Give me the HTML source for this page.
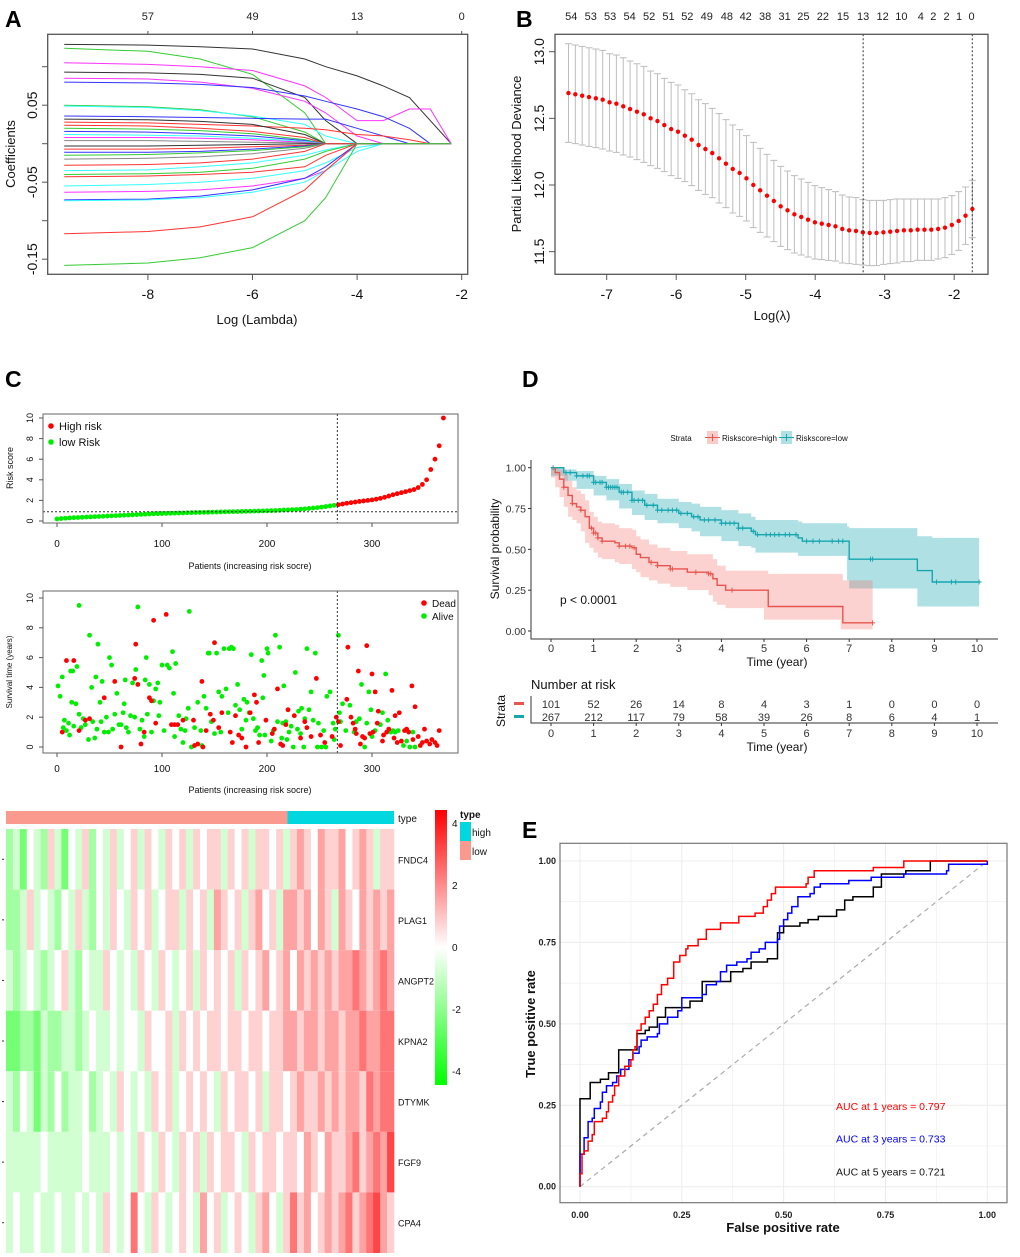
<!DOCTYPE html>
<html><head><meta charset="utf-8"><title>Risk model figure</title>
<style>
html,body{margin:0;padding:0;background:#fff;}
svg{display:block;font-family:"Liberation Sans",Arial,sans-serif;}
</style></head>
<body>
<svg id="fig" width="1020" height="1257" viewBox="0 0 1020 1257" xmlns="http://www.w3.org/2000/svg">
<rect x="0" y="0" width="1020" height="1257" fill="#fff"/>
<text x="5" y="27" font-size="23" font-weight="bold">A</text>
<text x="516" y="27" font-size="23" font-weight="bold">B</text>
<text x="5" y="387" font-size="23" font-weight="bold">C</text>
<text x="522" y="387" font-size="23" font-weight="bold">D</text>
<text x="522" y="838" font-size="23" font-weight="bold">E</text>
</svg>
<script>
// ================= DATA =================
// Panel A: LASSO coefficient paths
const aLogLambda=[-9.6,-8,-7,-6,-5,-4.6,-4,-3.5,-3,-2.6,-2.2];
const aPaths=[
[0.129,0.128,0.126,0.123,0.11,0.1,0.088,0.075,0.06,0.03,0],
[0.124,0.12,0.11,0.09,0.04,0,0,0,0,0,0],
[0.105,0.103,0.1,0.095,0.075,0.06,0.03,0.03,0.045,0.045,0],
[0.093,0.092,0.09,0.085,0.06,0.03,0,0,0,0,0],
[0.085,0.084,0.08,0.072,0.055,0.04,0.01,0,0,0,0],
[0.08,0.079,0.077,0.073,0.062,0.055,0.045,0.035,0.02,0,0],
[0.05,0.048,0.044,0.035,0.015,0,0,0,0,0,0],
[0.049,0.047,0.043,0.036,0.025,0.01,0,0,0,0,0],
[0.036,0.035,0.034,0.033,0.032,0.032,0.02,0.01,0,0,0],
[0.028,0.027,0.025,0.023,0.02,0.018,0.012,0.01,0.005,0,0],
[0.032,0.031,0.029,0.025,0.012,0,0,0,0,0,0],
[0.024,0.023,0.02,0.016,0.008,0,0,0,0,0,0],
[0.02,0.019,0.017,0.013,0.005,0,0,0,0,0,0],
[0.016,0.015,0.013,0.01,0.004,0,0,0,0,0,0],
[0.012,0.011,0.01,0.007,0.003,0,0,0,0,0,0],
[0.008,0.008,0.007,0.005,0.002,0,0,0,0,0,0],
[0.004,0.004,0.003,0.002,0.001,0,0,0,0,0,0],
[-0.003,-0.003,-0.002,-0.001,0,0,0,0,0,0,0],
[-0.007,-0.007,-0.006,-0.004,-0.002,0,0,0,0,0,0],
[-0.011,-0.011,-0.01,-0.007,-0.003,0,0,0,0,0,0],
[-0.015,-0.014,-0.012,-0.009,-0.004,0,0,0,0,0,0],
[-0.02,-0.019,-0.017,-0.013,-0.006,0,0,0,0,0,0],
[-0.028,-0.027,-0.025,-0.02,-0.01,0,0,0,0,0,0],
[-0.035,-0.034,-0.03,-0.025,-0.015,-0.008,0,0,0,0,0],
[-0.04,-0.039,-0.037,-0.032,-0.02,-0.01,0,0,0,0,0],
[-0.043,-0.042,-0.04,-0.037,-0.03,-0.015,0,0,0,0,0],
[-0.055,-0.053,-0.05,-0.045,-0.035,-0.025,-0.005,0,0,0,0],
[-0.063,-0.062,-0.06,-0.055,-0.045,-0.035,0,0,0,0,0],
[-0.073,-0.072,-0.068,-0.06,-0.045,-0.03,0,0,0,0,0],
[-0.074,-0.073,-0.07,-0.063,-0.05,-0.035,-0.01,0,0,0,0],
[-0.117,-0.114,-0.108,-0.095,-0.06,-0.035,0,0,0,0,0],
[-0.158,-0.155,-0.148,-0.135,-0.1,-0.07,0,0,0,0,0]];
const aColors=["#333","#3c3","#f3f","#333","#f3f","#33f","#3c3","#3ff","#33f","#f33","#333","#f33","#3c3","#33f","#3ff","#f3f","#888","#333","#f33","#33f","#3c3","#888","#f33","#3ff","#3c3","#f33","#3ff","#f3f","#33f","#3ff","#f33","#3c3"];
const aTopLabels=["57","49","13","0"];
const aTopAt=[-8,-6,-4,-2];
const aXTicks=[-8,-6,-4,-2];
const aYTicks=[-0.15,-0.1,-0.05,0,0.05,0.1];
const aYLabels=[-0.15,-0.05,0.05];

// Panel B: CV partial likelihood deviance
const bStart=-7.55, bStep=0.0985;
const bMean=[12.69,12.68,12.67,12.66,12.65,12.64,12.62,12.61,12.59,12.57,12.55,12.53,12.50,12.48,12.45,12.42,12.40,12.37,12.34,12.30,12.27,12.24,12.20,12.16,12.12,12.09,12.05,12.00,11.96,11.92,11.88,11.84,11.81,11.78,11.76,11.74,11.72,11.71,11.70,11.69,11.67,11.66,11.655,11.645,11.64,11.64,11.645,11.65,11.655,11.66,11.66,11.665,11.665,11.665,11.67,11.68,11.70,11.73,11.77,11.82];
const bSE=[0.37,0.37,0.37,0.37,0.37,0.37,0.365,0.365,0.365,0.36,0.36,0.36,0.355,0.355,0.35,0.35,0.35,0.345,0.345,0.34,0.34,0.335,0.335,0.33,0.33,0.325,0.32,0.32,0.315,0.31,0.305,0.3,0.295,0.29,0.285,0.28,0.275,0.27,0.265,0.26,0.255,0.25,0.25,0.245,0.245,0.245,0.24,0.24,0.24,0.235,0.235,0.23,0.23,0.23,0.225,0.225,0.22,0.22,0.215,0.215];
const bTopLabels=["54","53","53","54","52","51","52","49","48","42","38","31","25","22","15","13","12","10","4","2","2","1","0"];
const bTopAt=[-7.51,-7.23,-6.95,-6.67,-6.39,-6.11,-5.84,-5.56,-5.27,-5.0,-4.72,-4.44,-4.17,-3.89,-3.60,-3.31,-3.03,-2.76,-2.48,-2.30,-2.11,-1.93,-1.75];
const bXTicks=[-7,-6,-5,-4,-3,-2];
const bYTicks=[11.5,12.0,12.5,13.0];
const bLambdaMin=-3.31, bLambda1se=-1.74;

// Panel C
const riskScore=[0.20,0.24,0.27,0.30,0.32,0.34,0.36,0.38,0.40,0.42,0.44,0.46,0.48,0.50,0.52,0.54,0.56,0.58,0.60,0.62,0.64,0.66,0.68,0.70,0.71,
0.72,0.73,0.75,0.76,0.77,0.78,0.80,0.81,0.82,0.83,0.84,0.85,0.86,0.87,0.88,0.89,0.90,0.91,0.92,0.93,0.94,0.95,0.96,0.97,0.98,
0.99,1.00,1.02,1.04,1.06,1.08,1.10,1.12,1.15,1.18,1.22,1.26,1.30,1.35,1.40,1.46,1.52,
1.58,1.65,1.72,1.78,1.84,1.90,1.95,2.00,2.05,2.12,2.20,2.30,2.42,2.55,2.65,2.75,2.85,2.95,3.05,3.25,3.55,4.00,5.00,6.00,7.30,10.0];
const riskCutPatient=267, riskCutScore=0.9;
const cXTicks=[0,100,200,300];
const cYTicks=[0,2,4,6,8,10];
const aliveTimes=[[1,4.1],[3,3.4],[5,4.7],[6,1.3],[7,1.8],[9,1.1],[11,1.6],[12,0.8],[13,5.1],[14,3.0],[15,5.1],[16,1.4],[18,2.9],[19,5.4],[21,9.5],[21,2.2],[23,1.3],[25,1.9],[27,1.5],[30,0.5],[31,7.5],[33,4.0],[34,1.7],[36,0.6],[37,4.7],[38,1.2],[39,6.9],[41,3.0],[42,1.7],[43,4.4],[45,1.0],[47,2.0],[49,1.0],[50,6.0],[52,5.5],[53,1.2],[55,2.2],[57,3.6],[59,1.5],[61,1.5],[63,2.3],[64,2.9],[65,4.5],[66,1.3],[68,1.0],[70,2.1],[72,4.3],[74,2.0],[75,5.2],[77,9.4],[79,1.2],[81,1.8],[83,0.7],[84,4.5],[85,6.0],[86,2.2],[88,4.2],[90,1.0],[92,3.1],[94,3.9],[96,4.3],[97,2.1],[98,3.0],[100,5.5],[102,1.1],[105,5.5],[107,5.3],[110,6.4],[111,3.6],[112,0.7],[113,5.6],[116,2.1],[118,1.2],[120,0.3],[122,1.1],[123,1.9],[125,2.6],[126,9.1],[128,0.0],[131,1.3],[134,3.0],[137,1.1],[138,0.1],[140,3.4],[142,2.6],[144,6.3],[145,6.3],[147,1.7],[150,0.9],[152,6.3],[154,3.7],[156,1.0],[157,3.4],[159,6.6],[161,3.9],[163,2.3],[164,6.6],[166,6.7],[168,6.6],[170,2.8],[172,4.2],[174,2.5],[176,1.2],[178,3.2],[180,1.8],[181,3.0],[183,2.3],[185,6.2],[187,1.9],[189,1.1],[191,1.3],[193,0.8],[195,5.8],[196,3.3],[197,4.8],[198,0.8],[200,6.6],[201,6.3],[204,0.4],[206,1.1],[208,7.5],[210,1.7],[212,6.7],[214,0.6],[215,1.6],[216,4.1],[218,1.7],[219,0.5],[221,1.0],[223,1.4],[225,0.0],[227,5.0],[229,1.2],[230,2.4],[232,0.9],[233,2.6],[235,0.0],[236,1.9],[238,6.6],[240,2.5],[242,3.7],[244,1.8],[246,6.3],[248,0.0],[249,1.6],[252,0.0],[254,1.1],[256,0.0],[257,3.4],[260,3.7],[263,1.6],[264,0.5],[265,1.2],[268,7.5],[269,2.3],[270,1.7],[272,2.9],[275,1.1],[279,2.8],[283,1.0],[285,1.7],[288,1.9],[290,4.2],[293,0.0],[295,1.6],[297,3.7],[299,2.5],[300,0.7],[303,1.1],[308,1.5],[310,2.3],[313,4.9],[315,1.8],[318,1.0],[320,1.1],[322,1.0],[325,1.1],[330,0.1],[333,0.4],[336,0.0],[339,1.0],[341,0.0]];
const deadTimes=[[5,1.0],[9,5.8],[16,5.8],[21,1.1],[27,1.8],[31,1.9],[45,3.3],[55,4.4],[61,0.0],[74,4.6],[75,6.9],[77,4.2],[80,0.2],[83,1.0],[88,3.3],[90,3.1],[92,8.5],[94,1.6],[104,8.9],[109,1.5],[112,1.5],[115,1.5],[120,1.8],[130,1.8],[131,0.1],[134,0.2],[138,4.4],[139,0.0],[142,1.1],[146,2.2],[149,1.8],[150,7.0],[154,1.3],[157,2.3],[165,1.0],[167,0.3],[170,2.1],[173,0.8],[176,0.6],[180,0.0],[184,2.3],[188,3.5],[190,3.0],[192,0.3],[199,1.8],[205,0.9],[207,1.2],[210,3.9],[213,0.2],[215,0.1],[218,1.5],[220,2.5],[226,2.1],[232,0.6],[236,1.7],[238,1.3],[242,0.7],[247,4.6],[251,0.8],[255,0.3],[262,0.7],[266,2.0],[268,1.7],[270,0.1],[276,3.2],[277,6.7],[280,2.0],[282,1.6],[284,1.2],[285,0.9],[287,5.1],[289,0.2],[291,0.7],[293,0.6],[295,6.8],[298,0.9],[300,4.9],[301,1.0],[303,3.7],[305,1.6],[306,2.4],[310,0.4],[311,0.8],[314,1.0],[316,1.2],[319,3.8],[321,0.6],[322,2.1],[324,0.3],[326,2.3],[328,0.4],[331,1.1],[333,1.2],[335,1.0],[338,4.1],[339,0.5],[341,2.7],[344,0.7],[346,0.1],[348,0.3],[350,1.2],[352,0.4],[355,0.2],[357,0.5],[360,0.3],[362,0.1],[364,1.1]];

// Heatmap
const heatGenes=["FNDC4","PLAG1","ANGPT2","KPNA2","DTYMK","FGF9","CPA4"];
const heatRows=[
[-2,-1,-3,0,-1,-2,1,-1,-3,0,-1,1,-2,0,-1,1,-1,0,1,-1,1,0,-1,1,0,1,-1,1,0,1,1,-1,1,0,1,-1,1,1,0,1,-1,1,2,1,0,2,1,1,2,0,1,2,1,-1,1,1],
[-2,-2,-1,1,-1,0,-1,-2,0,-1,1,-1,-2,0,-1,1,0,-1,1,0,1,-1,0,1,1,-1,1,0,1,-1,2,1,0,1,-1,1,2,0,1,-1,2,2,1,2,0,2,1,-1,2,1,0,2,1,2,1,2],
[-1,-2,-1,0,-1,-2,-1,0,1,-1,-2,0,-1,-1,1,0,-1,0,-1,1,0,-1,1,0,-1,0,1,-1,1,0,1,0,1,-1,1,0,1,2,0,1,2,0,2,1,2,1,2,1,2,2,3,2,1,2,3,2],
[-3,-3,-2,-2,-3,-1,-2,-2,-1,-1,-2,-1,0,-1,-1,0,-1,0,0,-1,1,0,0,1,-1,1,0,1,0,1,1,0,1,1,0,1,1,0,1,1,2,2,1,2,2,1,2,2,1,2,2,3,2,2,3,3],
[-1,-2,0,-1,-3,-1,-2,0,-2,-1,-1,0,-2,-1,0,-1,1,0,-1,0,-1,1,0,1,-1,0,1,0,1,0,-1,1,0,1,1,0,1,-1,1,1,0,1,2,1,1,2,1,2,1,2,2,1,3,2,3,3],
[-1,-1,-1,-1,-1,0,-1,-1,-1,-1,-1,0,-1,-1,-1,0,-1,0,-1,1,0,-1,1,0,-1,1,0,1,-1,1,0,1,1,0,-1,1,0,1,1,0,1,1,0,2,1,0,2,1,1,2,3,1,2,3,2,4],
[-1,0,-1,-1,0,-1,-1,0,-1,-1,0,-1,0,-1,1,0,-1,0,3,0,-1,1,0,-1,0,1,0,-1,2,0,1,-1,0,1,0,-1,1,2,0,-1,1,3,1,2,0,1,2,1,2,3,1,2,3,4,2,1]];
const heatTypeCounts=[267,101];
const heatKeyTicks=[4,2,0,-2,-4];

// Panel D
const kmHighT=[0,0.1,0.2,0.3,0.4,0.5,0.6,0.7,0.8,0.9,1.0,1.1,1.2,1.5,1.6,1.9,2.0,2.1,2.3,2.5,2.8,3.2,3.7,3.8,3.9,4.1,5.0,5.1,6.8,6.85,7.55];
const kmHighS=[1,0.97,0.93,0.88,0.83,0.78,0.76,0.74,0.70,0.63,0.60,0.57,0.55,0.54,0.52,0.51,0.47,0.45,0.42,0.40,0.38,0.36,0.35,0.32,0.28,0.25,0.25,0.15,0.15,0.05,0.05];
const kmHighHi=[1,1,0.99,0.96,0.92,0.88,0.86,0.84,0.80,0.73,0.70,0.67,0.66,0.65,0.63,0.62,0.58,0.56,0.53,0.51,0.49,0.47,0.47,0.44,0.40,0.37,0.37,0.35,0.35,0.31,0.31];
const kmHighLo=[1,0.94,0.88,0.82,0.76,0.70,0.68,0.66,0.61,0.54,0.51,0.48,0.45,0.44,0.42,0.41,0.38,0.36,0.33,0.31,0.29,0.27,0.25,0.22,0.18,0.16,0.14,0.07,0.07,0.01,0.01];
const kmHighCens=[0.3,0.5,0.7,0.95,1.0,1.05,1.1,1.2,1.6,1.75,1.85,1.95,2.35,2.5,2.8,2.85,3.4,3.7,3.75,4.25,7.55];
const kmLowT=[0,0.3,0.6,1.0,1.3,1.6,1.9,2.2,2.5,3.0,3.3,3.5,4.0,4.4,4.7,4.8,5.8,5.9,6.95,7.0,8.6,8.95,10.05];
const kmLowS=[1,0.97,0.95,0.91,0.88,0.85,0.80,0.77,0.74,0.72,0.70,0.68,0.66,0.63,0.61,0.59,0.57,0.55,0.55,0.44,0.37,0.30,0.30];
const kmLowHi=[1,0.99,0.98,0.95,0.93,0.90,0.86,0.84,0.81,0.79,0.78,0.76,0.74,0.72,0.70,0.68,0.67,0.66,0.64,0.63,0.58,0.57,0.57];
const kmLowLo=[1,0.95,0.92,0.87,0.83,0.80,0.75,0.71,0.68,0.66,0.63,0.61,0.58,0.55,0.52,0.51,0.48,0.46,0.46,0.31,0.26,0.15,0.15];
const kmLowCens=[0.05,0.35,0.45,0.6,0.75,0.85,0.9,1.0,1.05,1.15,1.2,1.3,1.35,1.4,1.45,1.5,1.55,1.65,1.7,1.8,1.9,1.95,2.05,2.15,2.25,2.4,2.5,2.6,2.75,2.85,2.95,3.05,3.2,3.35,3.45,3.6,3.7,3.85,4.0,4.1,4.2,4.3,4.4,4.5,4.75,4.85,5.05,5.15,5.25,5.35,5.5,5.6,5.75,6.0,6.15,6.3,6.6,6.75,6.85,7.5,7.55,9.05,9.4,9.5,10.05];
const dXTicks=[0,1,2,3,4,5,6,7,8,9,10];
const dYTicks=[0,0.25,0.5,0.75,1];
const riskHigh=[101,52,26,14,8,4,3,1,0,0,0];
const riskLow=[267,212,117,79,58,39,26,8,6,4,1];

// Panel E
const roc1=[[0,0],[0,0.04],[0.005,0.1],[0.01,0.11],[0.02,0.14],[0.03,0.16],[0.035,0.2],[0.055,0.21],[0.065,0.23],[0.07,0.26],[0.08,0.28],[0.085,0.31],[0.095,0.34],[0.11,0.37],[0.125,0.39],[0.13,0.42],[0.135,0.43],[0.14,0.48],[0.15,0.5],[0.16,0.52],[0.17,0.54],[0.18,0.56],[0.19,0.59],[0.2,0.62],[0.215,0.64],[0.23,0.69],[0.245,0.71],[0.26,0.73],[0.265,0.74],[0.29,0.76],[0.31,0.79],[0.345,0.81],[0.39,0.83],[0.43,0.84],[0.45,0.86],[0.46,0.88],[0.47,0.9],[0.48,0.92],[0.555,0.93],[0.56,0.95],[0.575,0.97],[0.72,0.98],[0.795,1.0],[1,1]];
const roc3=[[0,0],[0,0.1],[0.01,0.1],[0.01,0.15],[0.02,0.15],[0.02,0.2],[0.03,0.21],[0.035,0.24],[0.05,0.26],[0.055,0.29],[0.065,0.31],[0.08,0.32],[0.09,0.34],[0.1,0.36],[0.12,0.39],[0.13,0.41],[0.145,0.43],[0.15,0.45],[0.165,0.46],[0.19,0.47],[0.195,0.5],[0.215,0.52],[0.24,0.54],[0.25,0.58],[0.3,0.59],[0.31,0.62],[0.335,0.63],[0.345,0.66],[0.36,0.68],[0.385,0.69],[0.41,0.7],[0.42,0.72],[0.44,0.73],[0.455,0.75],[0.485,0.76],[0.49,0.8],[0.5,0.82],[0.51,0.84],[0.52,0.86],[0.535,0.89],[0.565,0.9],[0.575,0.92],[0.59,0.93],[0.66,0.94],[0.715,0.95],[0.795,0.96],[0.9,0.97],[0.905,0.99],[1,1]];
const roc5=[[0,0],[0,0.27],[0.02,0.27],[0.025,0.32],[0.045,0.32],[0.05,0.33],[0.07,0.33],[0.07,0.35],[0.095,0.35],[0.095,0.42],[0.14,0.42],[0.14,0.47],[0.16,0.48],[0.17,0.49],[0.19,0.52],[0.21,0.53],[0.21,0.55],[0.27,0.55],[0.27,0.57],[0.3,0.57],[0.3,0.63],[0.37,0.63],[0.37,0.66],[0.4,0.66],[0.4,0.67],[0.42,0.67],[0.42,0.69],[0.46,0.69],[0.46,0.7],[0.485,0.7],[0.485,0.78],[0.5,0.78],[0.5,0.8],[0.54,0.8],[0.54,0.81],[0.56,0.81],[0.56,0.82],[0.585,0.83],[0.63,0.83],[0.63,0.85],[0.65,0.85],[0.65,0.88],[0.67,0.89],[0.72,0.9],[0.72,0.92],[0.74,0.92],[0.74,0.96],[0.8,0.96],[0.8,0.97],[0.84,0.97],[0.86,1.0],[1,1]];
const rocAUC=["0.797","0.733","0.721"];
const rocYears=["1","3","5"];
const eTicks=[0,0.25,0.5,0.75,1];
const eTickLabels=["0.00","0.25","0.50","0.75","1.00"];

// ================= DRAWING =================
const NS="http://www.w3.org/2000/svg";
const svg=document.getElementById('fig');
function el(tag,a,p){const e=document.createElementNS(NS,tag);for(const k in a)e.setAttribute(k,a[k]);(p||svg).appendChild(e);return e;}
function txt(s,a,p){const e=el('text',a,p);e.textContent=s;return e;}
function grp(name){const g=el('g',{});return g;}

// ---------- Panel A ----------
(function(){
const g=grp('panel-a-lasso-paths');
const xA=v=>147.9+(v+8)*52.3, yA=c=>143.7-c*770;
aPaths.forEach((p,i)=>{
 let d='';p.forEach((c,j)=>{d+=(j?'L':'M')+xA(aLogLambda[j]).toFixed(1)+' '+yA(c).toFixed(1);});
 const l=el('path',{d:d,fill:'none',stroke:aColors[i%aColors.length],'stroke-width':1},g);
 
 
});
const box=el('rect',{x:47.7,y:34.3,width:420,height:240,fill:'none',stroke:'#555','stroke-width':1.3},g);


aXTicks.forEach(v=>{
 el('line',{x1:xA(v),x2:xA(v),y1:274.3,y2:280,stroke:'#555'},g);
 const t=txt(String(v),{x:xA(v),y:299,'font-size':14,'text-anchor':'middle',fill:'#111'},g);
 
 
});
aTopAt.forEach((v,i)=>{
 el('line',{x1:xA(v),x2:xA(v),y1:34.3,y2:31,stroke:'#555'},g);
 const t=txt(aTopLabels[i],{x:xA(v),y:20,'font-size':11,'text-anchor':'middle',fill:'#222'},g);
 
 
});
aYTicks.forEach(v=>{el('line',{x1:42,x2:47.7,y1:yA(v),y2:yA(v),stroke:'#555'},g);});
aYLabels.forEach(v=>{
 const t=txt(String(v),{x:0,y:0,'font-size':14,'text-anchor':'middle',fill:'#111',transform:`translate(37,${yA(v)}) rotate(-90)`},g);
 
 
});
const yt=txt('Coefficients',{x:0,y:0,'font-size':13,'text-anchor':'middle',fill:'#111',transform:'translate(15,154) rotate(-90)'},g);


const xt=txt('Log (Lambda)',{x:257,y:324,'font-size':13,'text-anchor':'middle',fill:'#111'},g);


})();

// ---------- Panel B ----------
(function(){
const g=grp('panel-b-cv-deviance');
const xB=v=>606.7+(v+7)*69.5, yB=d=>51.7+(13-d)*133.3;
bMean.forEach((m,i)=>{
 const x=xB(bStart+i*bStep);
 const hi=yB(m+bSE[i]), lo=yB(m-bSE[i]);
 const eb=el('path',{d:`M${x} ${hi}V${lo}M${x-3.5} ${hi}H${x+3.5}M${x-3.5} ${lo}H${x+3.5}`,stroke:'#bdbdbd','stroke-width':1,fill:'none'},g);
 
 
});
bMean.forEach((m,i)=>{
 const c=el('circle',{cx:xB(bStart+i*bStep),cy:yB(m),r:2.2,fill:'#f00'},g);
 
 
});
[bLambdaMin,bLambda1se].forEach(v=>{
 const l=el('line',{x1:xB(v),x2:xB(v),y1:34.3,y2:274,stroke:'#333','stroke-dasharray':'2,2'},g);
 
 
});
const box=el('rect',{x:555,y:34.3,width:433,height:240,fill:'none',stroke:'#555','stroke-width':1.3},g);


bXTicks.forEach(v=>{
 el('line',{x1:xB(v),x2:xB(v),y1:274.3,y2:280,stroke:'#555'},g);
 const t=txt(String(v),{x:xB(v),y:299,'font-size':14,'text-anchor':'middle',fill:'#111'},g);
 
 
});
bTopAt.forEach((v,i)=>{
 const t=txt(bTopLabels[i],{x:xB(v),y:20,'font-size':11,'text-anchor':'middle',fill:'#222'},g);
 
 
});
bYTicks.forEach(v=>{
 el('line',{x1:549,x2:555,y1:yB(v),y2:yB(v),stroke:'#555'},g);
 const t=txt(v.toFixed(1),{x:0,y:0,'font-size':14,'text-anchor':'middle',fill:'#111',transform:`translate(544,${yB(v)}) rotate(-90)`},g);
 
 
});
const yt=txt('Partial Likelihood Deviance',{x:0,y:0,'font-size':13,'text-anchor':'middle',fill:'#111',transform:'translate(521,154) rotate(-90)'},g);


const xt=txt('Log(λ)',{x:772,y:320,'font-size':13,'text-anchor':'middle',fill:'#111'},g);


})();

// ---------- Panel C ----------
(function(){
const g=grp('panel-c-risk-plots');
const xC=p=>57+p*1.05, y1=v=>521-v*10.3, y2=t=>747-t*14.9;
riskScore.forEach((v,i)=>{
 const p=Math.min(i*4,368);
 const c=el('circle',{cx:xC(p),cy:y1(v),r:2.4,fill:p<riskCutPatient?'#0e0':'#f00'},g);
 
 
});
el('line',{x1:43,x2:458,y1:y1(riskCutScore),y2:y1(riskCutScore),stroke:'#333','stroke-dasharray':'2,2'},g);
el('line',{x1:xC(riskCutPatient),x2:xC(riskCutPatient),y1:414,y2:523,stroke:'#333','stroke-dasharray':'2,2'},g);
const b1=el('rect',{x:43,y:414,width:415,height:109,fill:'none',stroke:'#666','stroke-width':1},g);


aliveTimes.forEach(a=>{
 const c=el('circle',{cx:xC(a[0]),cy:y2(a[1]),r:2.4,fill:'#0e0'},g);
 
 
});
deadTimes.forEach(a=>{
 const c=el('circle',{cx:xC(a[0]),cy:y2(a[1]),r:2.4,fill:'#f00'},g);
 
 
});
el('line',{x1:xC(riskCutPatient),x2:xC(riskCutPatient),y1:591,y2:753,stroke:'#333','stroke-dasharray':'2,2'},g);
const b2=el('rect',{x:43,y:591,width:415,height:162,fill:'none',stroke:'#666','stroke-width':1},g);


[[523,547,569,y1],[753,772,793,y2]].forEach(cfg=>{
 cXTicks.forEach(v=>{
  el('line',{x1:xC(v),x2:xC(v),y1:cfg[0],y2:cfg[0]+4,stroke:'#555'},g);
  const t=txt(String(v),{x:xC(v),y:cfg[1],'font-size':10,'text-anchor':'middle',fill:'#111'},g);
  
  
 });
 const xt=txt('Patients (increasing risk socre)',{x:250,y:cfg[2],'font-size':9,'text-anchor':'middle',fill:'#111'},g);
 
 
 cYTicks.forEach(v=>{
  el('line',{x1:39,x2:43,y1:cfg[3](v),y2:cfg[3](v),stroke:'#555'},g);
  const t=txt(String(v),{x:0,y:0,'font-size':9,'text-anchor':'middle',fill:'#111',transform:`translate(33,${cfg[3](v)}) rotate(-90)`},g);
  
  
 });
});
const yt1=txt('Risk score',{x:0,y:0,'font-size':9,'text-anchor':'middle',fill:'#111',transform:'translate(13,468) rotate(-90)'},g);


const yt2=txt('Survival time (years)',{x:0,y:0,'font-size':8,'text-anchor':'middle',fill:'#111',transform:'translate(12,672) rotate(-90)'},g);


[['High risk','#f00',430],['low Risk','#0e0',446]].forEach(l=>{
 el('circle',{cx:51,cy:l[2]-4,r:2.8,fill:l[1]},g);
 const t=txt(l[0],{x:59,y:l[2],'font-size':11,fill:'#111'},g);
 
 
});
[['Dead','#f00',607],['Alive','#0e0',620]].forEach(l=>{
 el('circle',{cx:424,cy:l[2]-4,r:2.8,fill:l[1]},g);
 const t=txt(l[0],{x:432,y:l[2],'font-size':10,fill:'#111'},g);
 
 
});
})();

// ---------- Heatmap ----------
(function(){
const g=grp('heatmap');
const X0=6,X1=394,Y0=829,Y1=1253;
const rowH=(Y1-Y0)/heatRows.length;
function col(v){
 const t=Math.max(-1,Math.min(1,v/5.5));
 if(t>=0){const k=Math.round(255*(1-t));return `rgb(255,${k},${k})`;}
 const k=Math.round(255*(1+t));return `rgb(${k},255,${k})`;
}
heatRows.forEach((row,r)=>{
 const w=(X1-X0)/row.length;
 row.forEach((v,c)=>{
  const cell=el('rect',{x:(X0+c*w).toFixed(2),y:(Y0+r*rowH).toFixed(2),width:(w+0.3).toFixed(2),height:rowH.toFixed(2),fill:col(v)},g);
  
  
 });
 const lab=txt(heatGenes[r],{x:398,y:Y0+r*rowH+rowH/2+4,'font-size':9,fill:'#111'},g);
 
 
 el('line',{x1:2,x2:4,y1:Y0+r*rowH+rowH/2,y2:Y0+r*rowH+rowH/2,stroke:'#333'},g);
});
const tot=heatTypeCounts[0]+heatTypeCounts[1];
const wl=(X1-X0)*heatTypeCounts[0]/tot;
const tl=el('rect',{x:X0,y:811,width:wl,height:13,fill:'#fa9a8e'},g);


const th=el('rect',{x:X0+wl,y:811,width:X1-X0-wl,height:13,fill:'#00d7df'},g);


const tt=txt('type',{x:398,y:822,'font-size':10,fill:'#111'},g);


const defs=el('defs',{},g);
const lg=el('linearGradient',{id:'keyg',x1:0,y1:0,x2:0,y2:1},defs);
el('stop',{offset:'0','stop-color':'#f00'},lg);
el('stop',{offset:'0.5','stop-color':'#fff'},lg);
el('stop',{offset:'1','stop-color':'#0f0'},lg);
const key=el('rect',{x:435,y:810,width:12,height:275,fill:'url(#keyg)'},g);


heatKeyTicks.forEach(v=>{
 const t=txt(String(v),{x:452,y:947-v*31+4,'font-size':10,fill:'#111'},g);
 
 
});
const lt=txt('type',{x:460,y:818,'font-size':10,'font-weight':'bold',fill:'#111'},g);


el('rect',{x:460,y:822,width:11,height:19,fill:'#00d7df'},g);
el('rect',{x:460,y:841,width:11,height:19,fill:'#fa9a8e'},g);
const lh=txt('high',{x:472,y:836,'font-size':10,fill:'#111'},g);


const ll=txt('low',{x:472,y:855,'font-size':10,fill:'#111'},g);


})();

// ---------- Panel D ----------
(function(){
const g=grp('panel-d-km');
const xD=t=>551+t*42.6, yD=s=>631-s*163.3;
function band(T,H,L){
 let d='M'+xD(T[0])+' '+yD(H[0]);
 for(let i=1;i<T.length;i++)d+='H'+xD(T[i])+'V'+yD(H[i]);
 d+='V'+yD(L[L.length-1]);
 for(let i=T.length-1;i>0;i--)d+='V'+yD(L[i])+'H'+xD(T[i-1]);
 return d+'V'+yD(L[0])+'Z';
}
function step(T,S){let d='M'+xD(T[0])+' '+yD(S[0]);for(let i=1;i<T.length;i++)d+='H'+xD(T[i])+'V'+yD(S[i]);return d;}
function at(T,S,t){let s=S[0];for(let i=0;i<T.length;i++)if(T[i]<=t)s=S[i];return s;}
const bl=el('path',{d:band(kmLowT,kmLowHi,kmLowLo),fill:'#1aa9b3','fill-opacity':0.35},g);


const bh=el('path',{d:band(kmHighT,kmHighHi,kmHighLo),fill:'#f26b64','fill-opacity':0.3},g);


const ll=el('path',{d:step(kmLowT,kmLowS),fill:'none',stroke:'#16a6b0','stroke-width':1.4},g);


const lh=el('path',{d:step(kmHighT,kmHighS),fill:'none',stroke:'#e8554e','stroke-width':1.4},g);


[[kmLowCens,kmLowT,kmLowS,'#16a6b0'],[kmHighCens,kmHighT,kmHighS,'#e8554e']].forEach(c=>{
 c[0].forEach(t=>{
  const x=xD(t),y=yD(at(c[1],c[2],t));
  const m=el('path',{d:`M${x-2.5} ${y}H${x+2.5}M${x} ${y-2.5}V${y+2.5}`,stroke:c[3],'stroke-width':1},g);
  
  
 });
});
el('path',{d:'M531 460V639H998',fill:'none',stroke:'#333','stroke-width':1},g);
dXTicks.forEach(v=>{
 el('line',{x1:xD(v),x2:xD(v),y1:639,y2:642,stroke:'#333'},g);
 const t=txt(String(v),{x:xD(v),y:652,'font-size':11,'text-anchor':'middle',fill:'#333'},g);
 
 
});
dYTicks.forEach(v=>{
 el('line',{x1:528,x2:531,y1:yD(v),y2:yD(v),stroke:'#333'},g);
 const t=txt(v.toFixed(2),{x:526,y:yD(v)+4,'font-size':10.5,'text-anchor':'end',fill:'#333'},g);
 
 
});
const yt=txt('Survival probability',{x:0,y:0,'font-size':12,'text-anchor':'middle',fill:'#111',transform:'translate(499,549) rotate(-90)'},g);


const xt=txt('Time (year)',{x:777,y:666,'font-size':12,'text-anchor':'middle',fill:'#111'},g);


const pv=txt('p < 0.0001',{x:560,y:604,'font-size':12,fill:'#111'},g);


const lgS=txt('Strata',{x:681,y:441,'font-size':8,'text-anchor':'middle',fill:'#111'},g);


el('rect',{x:707,y:431,width:11,height:13,fill:'#f26b64','fill-opacity':0.35},g);
el('path',{d:'M705 437.5H720M712.5 434V441',stroke:'#e8554e'},g);
const lgH=txt('Riskscore=high',{x:722,y:441,'font-size':8,fill:'#111'},g);


el('rect',{x:781,y:431,width:11,height:13,fill:'#1aa9b3','fill-opacity':0.35},g);
el('path',{d:'M779 437.5H794M786.5 434V441',stroke:'#16a6b0'},g);
const lgL=txt('Riskscore=low',{x:796,y:441,'font-size':8,fill:'#111'},g);


const nr=txt('Number at risk',{x:531,y:689,'font-size':13,fill:'#111'},g);


const st=txt('Strata',{x:0,y:0,'font-size':12,'text-anchor':'middle',fill:'#111',transform:'translate(505,711) rotate(-90)'},g);


el('rect',{x:514,y:702,width:10,height:3,fill:'#e8554e'},g);
el('rect',{x:514,y:715,width:10,height:3,fill:'#16a6b0'},g);
el('path',{d:'M531 696V723H998',fill:'none',stroke:'#333'},g);
dXTicks.forEach((v,i)=>{
 const a=txt(String(riskHigh[i]),{x:xD(v),y:708,'font-size':11,'text-anchor':'middle',fill:'#333'},g);
 
 
 const b=txt(String(riskLow[i]),{x:xD(v),y:721,'font-size':11,'text-anchor':'middle',fill:'#333'},g);
 
 
 el('line',{x1:xD(v),x2:xD(v),y1:723,y2:726,stroke:'#333'},g);
 const t=txt(String(v),{x:xD(v),y:737,'font-size':11,'text-anchor':'middle',fill:'#333'},g);
 
 
});
const xt2=txt('Time (year)',{x:777,y:751,'font-size':12,'text-anchor':'middle',fill:'#111'},g);


})();

// ---------- Panel E ----------
(function(){
const g=grp('panel-e-roc');
const xE=f=>580+f*407.3, yE=t=>1186.7-t*325.7;
for(let v=0;v<=1.0001;v+=0.125){
 el('line',{x1:xE(v),x2:xE(v),y1:843,y2:1203,stroke:'#ececec','stroke-width':v*8%2?0.6:1},g);
 el('line',{x1:560,x2:1007,y1:yE(v),y2:yE(v),stroke:'#ececec','stroke-width':v*8%2?0.6:1},g);
}
const dg=el('line',{x1:xE(0),y1:yE(0),x2:xE(1),y2:yE(1),stroke:'#aaa','stroke-width':1.2,'stroke-dasharray':'5,4'},g);


function stepPath(pts){let d='M'+xE(pts[0][0])+' '+yE(pts[0][1]);for(let i=1;i<pts.length;i++)d+='H'+xE(pts[i][0]).toFixed(1)+'V'+yE(pts[i][1]).toFixed(1);return d;}
[[roc5,'#000','roc-curve-5-years'],[roc3,'#00f','roc-curve-3-years'],[roc1,'#f00','roc-curve-1-year']].forEach(r=>{
 const p=el('path',{d:stepPath(r[0]),fill:'none',stroke:r[1],'stroke-width':1.5},g);
 
 
});
const box=el('rect',{x:560,y:843.3,width:447,height:359.4,fill:'none',stroke:'#777','stroke-width':1.2},g);


eTicks.forEach((v,i)=>{
 const t=txt(eTickLabels[i],{x:xE(v),y:1218,'font-size':9,'font-weight':'bold','text-anchor':'middle',fill:'#222'},g);
 
 
 const u=txt(eTickLabels[i],{x:556,y:yE(v)+3,'font-size':9,'font-weight':'bold','text-anchor':'end',fill:'#222'},g);
 
 
});
const xt=txt('False positive rate',{x:783,y:1232,'font-size':13,'font-weight':'bold','text-anchor':'middle',fill:'#111'},g);


const yt=txt('True positive rate',{x:0,y:0,'font-size':13,'font-weight':'bold','text-anchor':'middle',fill:'#111',transform:'translate(535,1024) rotate(-90)'},g);


['#f00','#00f','#111'].forEach((c,i)=>{
 const t=txt(`AUC at ${rocYears[i]} years = ${rocAUC[i]}`,{x:836,y:1110+i*32.7,'font-size':10.5,fill:c},g);
 
 
});
})();
</script>
</body></html>
